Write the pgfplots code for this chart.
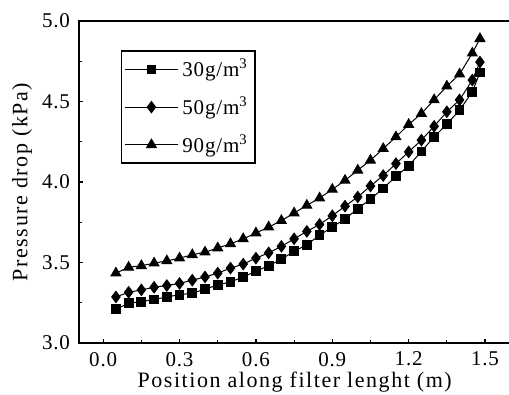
\documentclass[border=0pt]{standalone}
\usepackage{fontspec}
\setmainfont{Liberation Serif}[LetterSpace=4]
\newfontfamily\labfont{Liberation Serif}[LetterSpace=7]
\usepackage{pgfplots}
\pgfplotsset{compat=1.18}
\begin{document}
\begin{tikzpicture}
\begin{axis}[
  scale only axis,
  width=215.75pt, height=161pt,
  xmin=-0.095, xmax=1.6,
  ymin=3.0, ymax=5.0,
  xtick={0,0.3,0.6,0.9,1.2,1.5},
  ytick={3.0,3.5,4.0,4.5,5.0},
  minor x tick num=1, minor y tick num=1,
  xtick pos=left, ytick pos=left,
  tick align=inside,
  major tick length=2.2pt, minor tick length=1.6pt,
  every tick/.style={black, line width=0.6pt},
  axis line style={line width=0.8pt},
  /pgf/number format/assume math mode=true,
  /pgf/number format/.cd, fixed, fixed zerofill, precision=1, /pgfplots/.cd,
  tick label style={font=\fontsize{10.5}{12}\selectfont},
  xticklabel style={yshift=-1pt},
  yticklabel style={xshift=-1pt},
  label style={font=\labfont\fontsize{11}{12}\selectfont},
  xlabel={Position along\ filter lenght (m)},
  ylabel={Pressure drop (kPa)},
  xlabel style={at={(axis description cs:0.5,0)}, anchor=center, yshift=-19.5pt},
  ylabel style={at={(axis description cs:0,0.5)}, anchor=center, yshift=28.5pt},
  legend style={at={(axis cs:0.069,4.818)}, anchor=north west, draw=black, line width=0.8pt,
    font=\fontsize{10.5}{12}\selectfont, inner xsep=1.5pt, inner ysep=2pt,
    row sep=4.5pt, cells={anchor=west}},
  legend image code/.code={\draw[line width=0.5pt, mark repeat=2, mark phase=2] plot coordinates {(0pt,0pt) (13.2pt,0pt) (26.4pt,0pt)};},
  every axis plot/.append style={black, line width=0.5pt},
]
\addplot[mark=square*, mark size=2.2pt] coordinates {
(0.05,3.21)(0.10,3.247)(0.15,3.257)(0.20,3.27)(0.25,3.286)(0.30,3.30)(0.35,3.31)
(0.40,3.334)(0.45,3.36)(0.50,3.38)(0.55,3.41)(0.60,3.446)(0.65,3.48)(0.70,3.52)
(0.75,3.57)(0.80,3.61)(0.85,3.67)(0.90,3.72)(0.95,3.77)(1.00,3.834)(1.05,3.894)
(1.10,3.96)(1.15,4.035)(1.20,4.10)(1.25,4.19)(1.30,4.28)(1.35,4.36)(1.40,4.446)
(1.45,4.56)(1.48,4.68)};
\addlegendentry{30g/m\textsuperscript{3}\hspace{3pt}}
\addplot[mark=diamond*, mark size=2.8pt] coordinates {
(0.05,3.286)(0.10,3.315)(0.15,3.33)(0.20,3.346)(0.25,3.357)(0.30,3.37)(0.35,3.39)
(0.40,3.41)(0.45,3.434)(0.50,3.465)(0.55,3.49)(0.60,3.527)(0.65,3.56)(0.70,3.60)
(0.75,3.647)(0.80,3.693)(0.85,3.736)(0.90,3.79)(0.95,3.85)(1.00,3.907)(1.05,3.975)
(1.10,4.04)(1.15,4.114)(1.20,4.187)(1.25,4.26)(1.30,4.346)(1.35,4.436)(1.40,4.51)
(1.45,4.633)(1.48,4.745)};
\addlegendentry{50g/m\textsuperscript{3}\hspace{3pt}}
\addplot[mark=triangle*, mark size=2.8pt] coordinates {
(0.05,3.434)(0.10,3.47)(0.15,3.48)(0.20,3.496)(0.25,3.51)(0.30,3.527)(0.35,3.548)
(0.40,3.564)(0.45,3.59)(0.50,3.616)(0.55,3.647)(0.60,3.683)(0.65,3.72)(0.70,3.76)
(0.75,3.807)(0.80,3.855)(0.85,3.90)(0.90,3.954)(0.95,4.01)(1.00,4.073)(1.05,4.135)
(1.10,4.207)(1.15,4.28)(1.20,4.357)(1.25,4.425)(1.30,4.51)(1.35,4.595)(1.40,4.67)
(1.45,4.80)(1.48,4.89)};
\addlegendentry{90g/m\textsuperscript{3}\hspace{3pt}}
\end{axis}
\pgfresetboundingbox
\path[use as bounding box] ([xshift=-39.5pt,yshift=-26pt]current axis.south west) rectangle ([xshift=-0.75pt,yshift=10.5pt]current axis.north east);
\end{tikzpicture}
\end{document}
